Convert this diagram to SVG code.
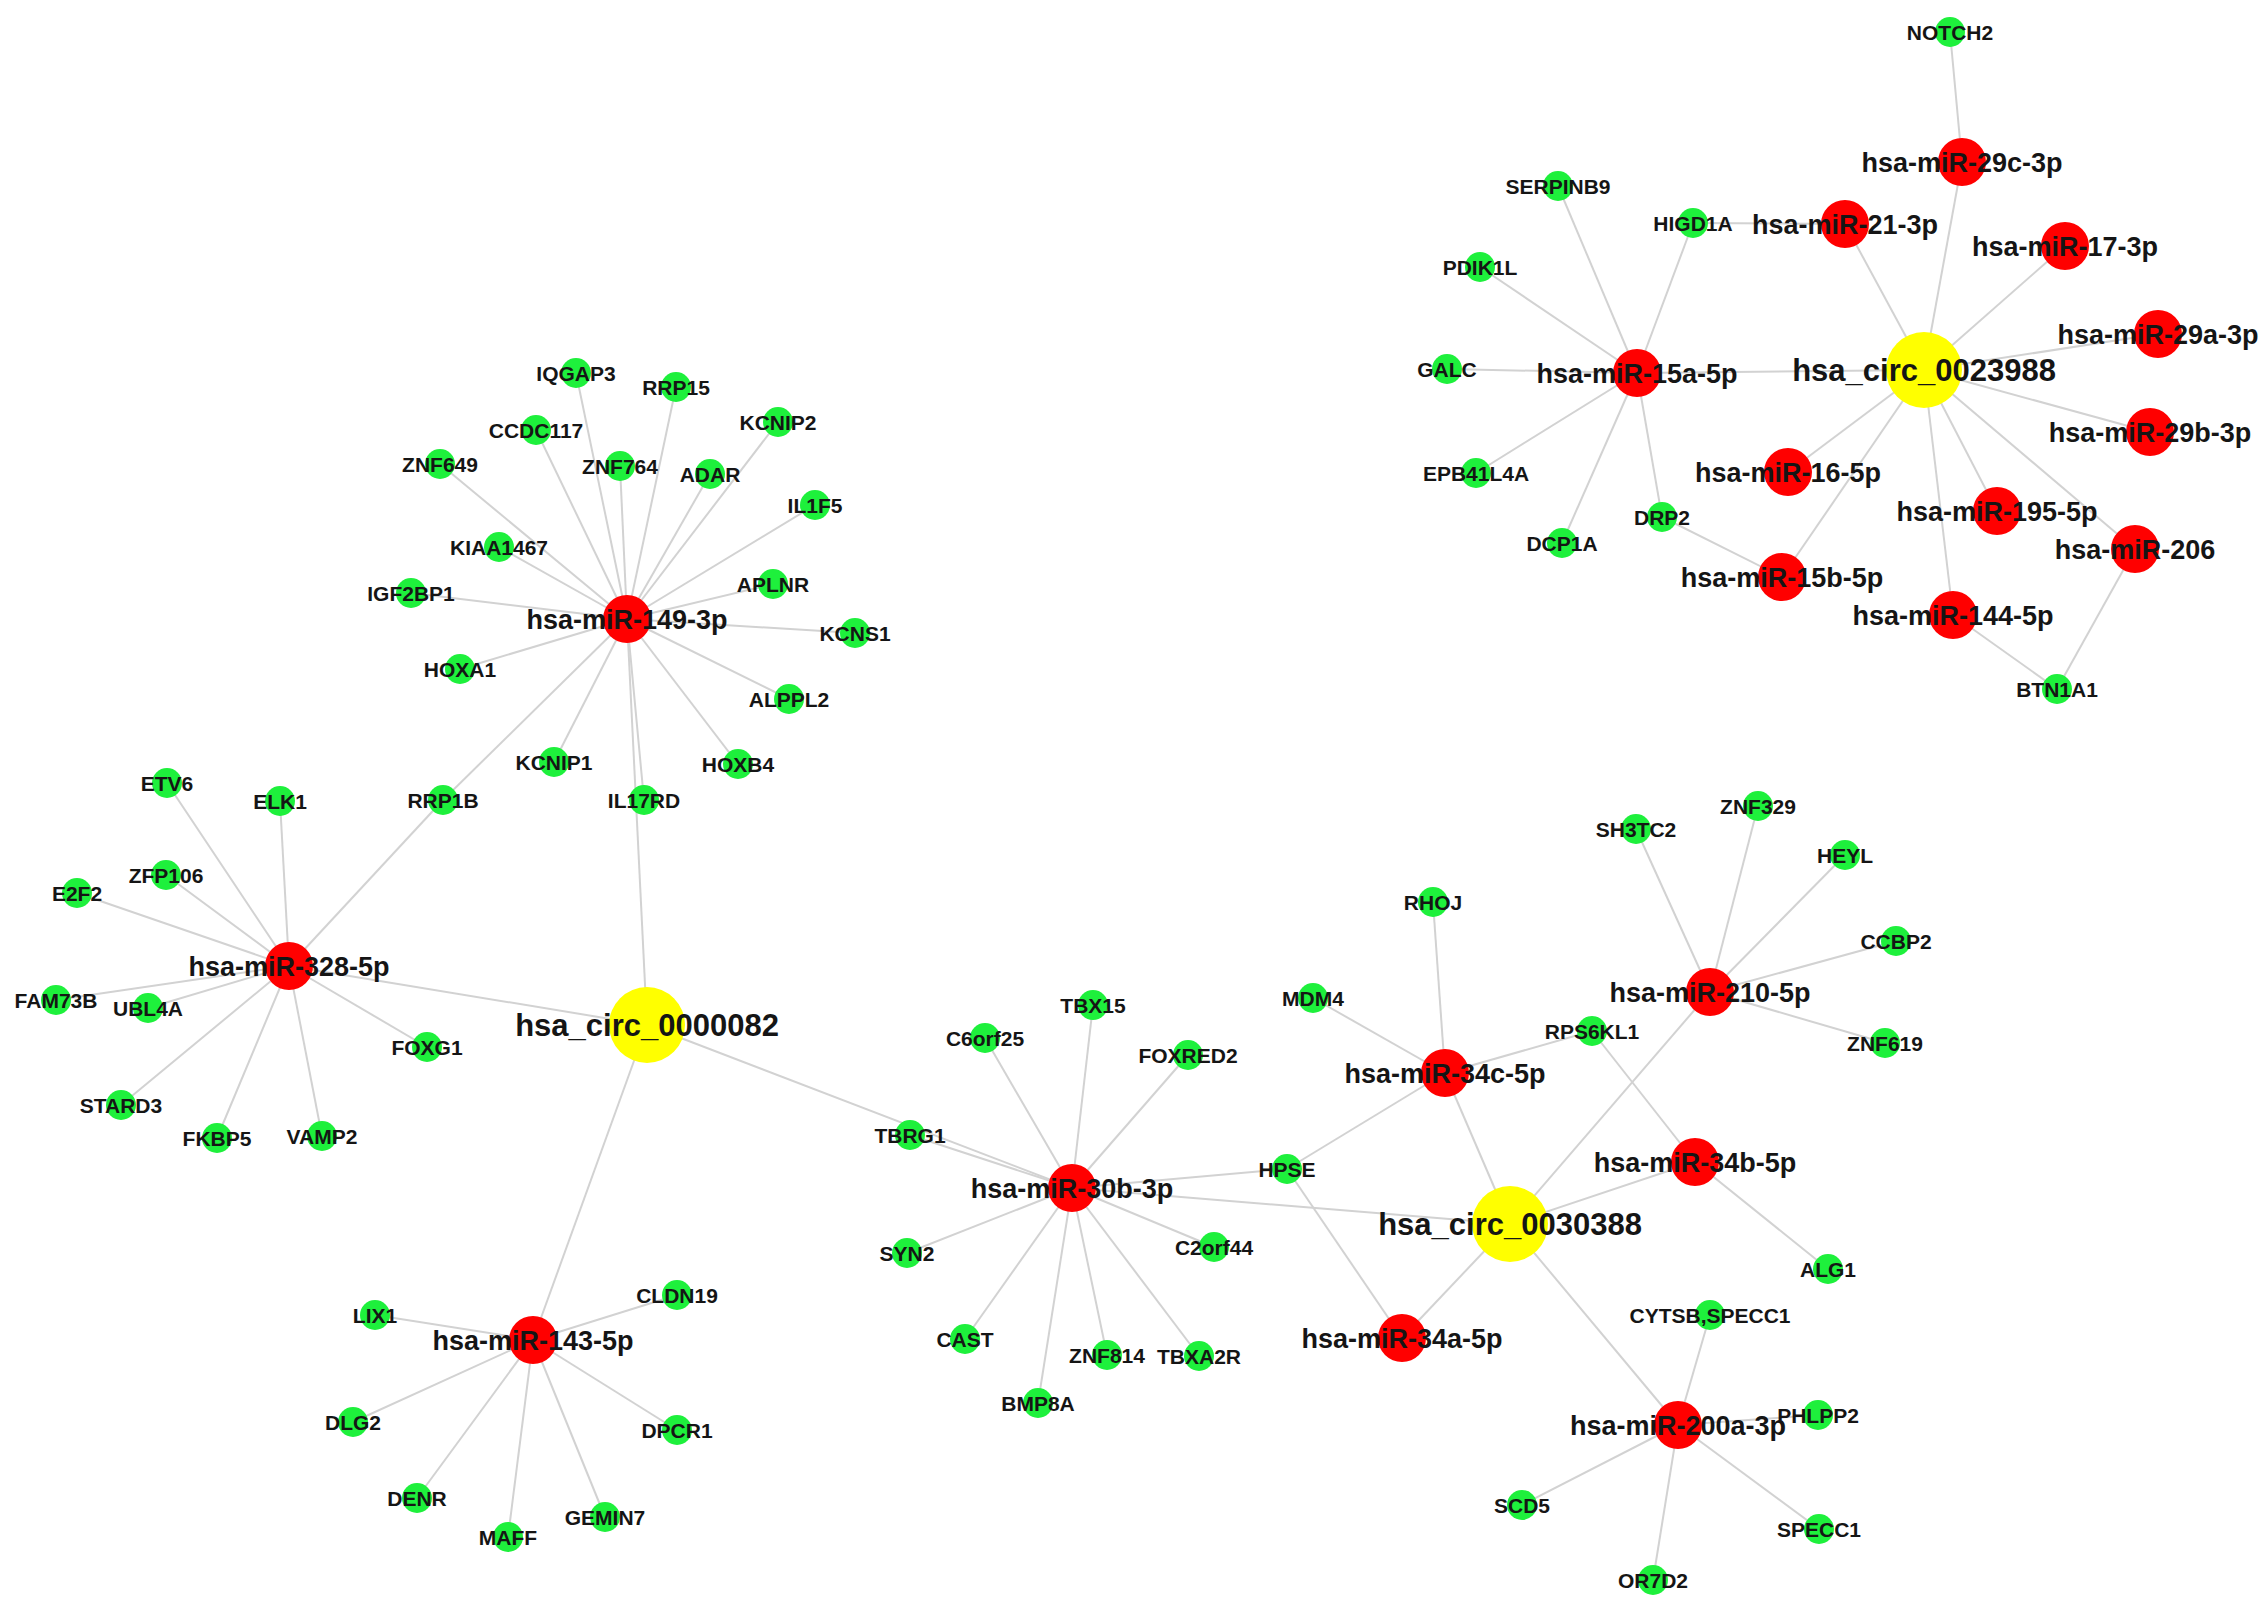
<svg xmlns="http://www.w3.org/2000/svg" width="2268" height="1609" viewBox="0 0 2268 1609">
<style>
.e line{stroke:#d2d2d2;stroke-width:2}
.g circle{fill:#1ef03c}
.r circle{fill:#ff0000}
.y circle{fill:#ffff00}
text{font-family:"Liberation Sans",Arial,sans-serif;font-weight:bold;fill:#151515;text-anchor:middle}
.g text{font-size:21px}
.r text{font-size:27px}
.y text{font-size:31px}
</style>
<rect width="2268" height="1609" fill="#ffffff"/>
<g id="edges" class="e">
<line x1="647" y1="1025" x2="627" y2="619"/>
<line x1="647" y1="1025" x2="289" y2="966"/>
<line x1="647" y1="1025" x2="533" y2="1340"/>
<line x1="647" y1="1025" x2="1072" y2="1188"/>
<line x1="627" y1="619" x2="576" y2="373"/>
<line x1="627" y1="619" x2="676" y2="387"/>
<line x1="627" y1="619" x2="536" y2="430"/>
<line x1="627" y1="619" x2="440" y2="464"/>
<line x1="627" y1="619" x2="620" y2="466"/>
<line x1="627" y1="619" x2="710" y2="474"/>
<line x1="627" y1="619" x2="778" y2="422"/>
<line x1="627" y1="619" x2="499" y2="547"/>
<line x1="627" y1="619" x2="411" y2="593"/>
<line x1="627" y1="619" x2="815" y2="505"/>
<line x1="627" y1="619" x2="773" y2="584"/>
<line x1="627" y1="619" x2="855" y2="633"/>
<line x1="627" y1="619" x2="460" y2="669"/>
<line x1="627" y1="619" x2="789" y2="699"/>
<line x1="627" y1="619" x2="738" y2="764"/>
<line x1="627" y1="619" x2="554" y2="762"/>
<line x1="627" y1="619" x2="644" y2="800"/>
<line x1="627" y1="619" x2="443" y2="800"/>
<line x1="289" y1="966" x2="167" y2="783"/>
<line x1="289" y1="966" x2="280" y2="801"/>
<line x1="289" y1="966" x2="443" y2="800"/>
<line x1="289" y1="966" x2="166" y2="875"/>
<line x1="289" y1="966" x2="77" y2="893"/>
<line x1="289" y1="966" x2="56" y2="1000"/>
<line x1="289" y1="966" x2="148" y2="1008"/>
<line x1="289" y1="966" x2="427" y2="1047"/>
<line x1="289" y1="966" x2="121" y2="1105"/>
<line x1="289" y1="966" x2="217" y2="1138"/>
<line x1="289" y1="966" x2="322" y2="1136"/>
<line x1="533" y1="1340" x2="375" y2="1315"/>
<line x1="533" y1="1340" x2="677" y2="1295"/>
<line x1="533" y1="1340" x2="353" y2="1422"/>
<line x1="533" y1="1340" x2="677" y2="1430"/>
<line x1="533" y1="1340" x2="417" y2="1498"/>
<line x1="533" y1="1340" x2="508" y2="1537"/>
<line x1="533" y1="1340" x2="605" y2="1517"/>
<line x1="1072" y1="1188" x2="910" y2="1135"/>
<line x1="1072" y1="1188" x2="985" y2="1038"/>
<line x1="1072" y1="1188" x2="1093" y2="1005"/>
<line x1="1072" y1="1188" x2="1188" y2="1055"/>
<line x1="1072" y1="1188" x2="1287" y2="1169"/>
<line x1="1072" y1="1188" x2="907" y2="1253"/>
<line x1="1072" y1="1188" x2="1214" y2="1247"/>
<line x1="1072" y1="1188" x2="965" y2="1339"/>
<line x1="1072" y1="1188" x2="1107" y2="1355"/>
<line x1="1072" y1="1188" x2="1199" y2="1356"/>
<line x1="1072" y1="1188" x2="1038" y2="1403"/>
<line x1="1072" y1="1188" x2="1510" y2="1224"/>
<line x1="1510" y1="1224" x2="1445" y2="1073"/>
<line x1="1510" y1="1224" x2="1402" y2="1338"/>
<line x1="1510" y1="1224" x2="1710" y2="992"/>
<line x1="1510" y1="1224" x2="1695" y2="1162"/>
<line x1="1510" y1="1224" x2="1678" y2="1425"/>
<line x1="1445" y1="1073" x2="1433" y2="902"/>
<line x1="1445" y1="1073" x2="1313" y2="998"/>
<line x1="1445" y1="1073" x2="1592" y2="1031"/>
<line x1="1445" y1="1073" x2="1287" y2="1169"/>
<line x1="1402" y1="1338" x2="1287" y2="1169"/>
<line x1="1710" y1="992" x2="1636" y2="829"/>
<line x1="1710" y1="992" x2="1758" y2="806"/>
<line x1="1710" y1="992" x2="1845" y2="855"/>
<line x1="1710" y1="992" x2="1896" y2="941"/>
<line x1="1710" y1="992" x2="1885" y2="1043"/>
<line x1="1695" y1="1162" x2="1592" y2="1031"/>
<line x1="1695" y1="1162" x2="1828" y2="1269"/>
<line x1="1678" y1="1425" x2="1710" y2="1315"/>
<line x1="1678" y1="1425" x2="1818" y2="1415"/>
<line x1="1678" y1="1425" x2="1522" y2="1505"/>
<line x1="1678" y1="1425" x2="1819" y2="1529"/>
<line x1="1678" y1="1425" x2="1653" y2="1580"/>
<line x1="1924" y1="370" x2="1637" y2="373"/>
<line x1="1924" y1="370" x2="1845" y2="224"/>
<line x1="1924" y1="370" x2="1962" y2="162"/>
<line x1="1924" y1="370" x2="2065" y2="246"/>
<line x1="1924" y1="370" x2="2158" y2="334"/>
<line x1="1924" y1="370" x2="2150" y2="432"/>
<line x1="1924" y1="370" x2="2135" y2="549"/>
<line x1="1924" y1="370" x2="1997" y2="511"/>
<line x1="1924" y1="370" x2="1953" y2="615"/>
<line x1="1924" y1="370" x2="1788" y2="472"/>
<line x1="1924" y1="370" x2="1782" y2="577"/>
<line x1="1637" y1="373" x2="1558" y2="186"/>
<line x1="1637" y1="373" x2="1693" y2="223"/>
<line x1="1637" y1="373" x2="1480" y2="267"/>
<line x1="1637" y1="373" x2="1447" y2="369"/>
<line x1="1637" y1="373" x2="1476" y2="473"/>
<line x1="1637" y1="373" x2="1562" y2="543"/>
<line x1="1637" y1="373" x2="1662" y2="517"/>
<line x1="1693" y1="223" x2="1845" y2="224"/>
<line x1="1662" y1="517" x2="1782" y2="577"/>
<line x1="1962" y1="162" x2="1950" y2="32"/>
<line x1="2057" y1="689" x2="1953" y2="615"/>
<line x1="2057" y1="689" x2="2135" y2="549"/>
</g>
<!-- green gene nodes -->
<g id="n-IQGAP3" class="g"><circle cx="576" cy="373" r="15"/><text x="576" y="380.5">IQGAP3</text></g>
<g id="n-RRP15" class="g"><circle cx="676" cy="387" r="15"/><text x="676" y="394.5">RRP15</text></g>
<g id="n-CCDC117" class="g"><circle cx="536" cy="430" r="15"/><text x="536" y="437.5">CCDC117</text></g>
<g id="n-ZNF649" class="g"><circle cx="440" cy="464" r="15"/><text x="440" y="471.5">ZNF649</text></g>
<g id="n-ZNF764" class="g"><circle cx="620" cy="466" r="15"/><text x="620" y="473.5">ZNF764</text></g>
<g id="n-ADAR" class="g"><circle cx="710" cy="474" r="15"/><text x="710" y="481.5">ADAR</text></g>
<g id="n-KCNIP2" class="g"><circle cx="778" cy="422" r="15"/><text x="778" y="429.5">KCNIP2</text></g>
<g id="n-KIAA1467" class="g"><circle cx="499" cy="547" r="15"/><text x="499" y="554.5">KIAA1467</text></g>
<g id="n-IGF2BP1" class="g"><circle cx="411" cy="593" r="15"/><text x="411" y="600.5">IGF2BP1</text></g>
<g id="n-IL1F5" class="g"><circle cx="815" cy="505" r="15"/><text x="815" y="512.5">IL1F5</text></g>
<g id="n-APLNR" class="g"><circle cx="773" cy="584" r="15"/><text x="773" y="591.5">APLNR</text></g>
<g id="n-KCNS1" class="g"><circle cx="855" cy="633" r="15"/><text x="855" y="640.5">KCNS1</text></g>
<g id="n-HOXA1" class="g"><circle cx="460" cy="669" r="15"/><text x="460" y="676.5">HOXA1</text></g>
<g id="n-ALPPL2" class="g"><circle cx="789" cy="699" r="15"/><text x="789" y="706.5">ALPPL2</text></g>
<g id="n-HOXB4" class="g"><circle cx="738" cy="764" r="15"/><text x="738" y="771.5">HOXB4</text></g>
<g id="n-KCNIP1" class="g"><circle cx="554" cy="762" r="15"/><text x="554" y="769.5">KCNIP1</text></g>
<g id="n-IL17RD" class="g"><circle cx="644" cy="800" r="15"/><text x="644" y="807.5">IL17RD</text></g>
<g id="n-RRP1B" class="g"><circle cx="443" cy="800" r="15"/><text x="443" y="807.5">RRP1B</text></g>
<g id="n-ETV6" class="g"><circle cx="167" cy="783" r="15"/><text x="167" y="790.5">ETV6</text></g>
<g id="n-ELK1" class="g"><circle cx="280" cy="801" r="15"/><text x="280" y="808.5">ELK1</text></g>
<g id="n-ZFP106" class="g"><circle cx="166" cy="875" r="15"/><text x="166" y="882.5">ZFP106</text></g>
<g id="n-E2F2" class="g"><circle cx="77" cy="893" r="15"/><text x="77" y="900.5">E2F2</text></g>
<g id="n-FAM73B" class="g"><circle cx="56" cy="1000" r="15"/><text x="56" y="1007.5">FAM73B</text></g>
<g id="n-UBL4A" class="g"><circle cx="148" cy="1008" r="15"/><text x="148" y="1015.5">UBL4A</text></g>
<g id="n-FOXG1" class="g"><circle cx="427" cy="1047" r="15"/><text x="427" y="1054.5">FOXG1</text></g>
<g id="n-STARD3" class="g"><circle cx="121" cy="1105" r="15"/><text x="121" y="1112.5">STARD3</text></g>
<g id="n-FKBP5" class="g"><circle cx="217" cy="1138" r="15"/><text x="217" y="1145.5">FKBP5</text></g>
<g id="n-VAMP2" class="g"><circle cx="322" cy="1136" r="15"/><text x="322" y="1143.5">VAMP2</text></g>
<g id="n-LIX1" class="g"><circle cx="375" cy="1315" r="15"/><text x="375" y="1322.5">LIX1</text></g>
<g id="n-CLDN19" class="g"><circle cx="677" cy="1295" r="15"/><text x="677" y="1302.5">CLDN19</text></g>
<g id="n-DLG2" class="g"><circle cx="353" cy="1422" r="15"/><text x="353" y="1429.5">DLG2</text></g>
<g id="n-DPCR1" class="g"><circle cx="677" cy="1430" r="15"/><text x="677" y="1437.5">DPCR1</text></g>
<g id="n-DENR" class="g"><circle cx="417" cy="1498" r="15"/><text x="417" y="1505.5">DENR</text></g>
<g id="n-MAFF" class="g"><circle cx="508" cy="1537" r="15"/><text x="508" y="1544.5">MAFF</text></g>
<g id="n-GEMIN7" class="g"><circle cx="605" cy="1517" r="15"/><text x="605" y="1524.5">GEMIN7</text></g>
<g id="n-TBX15" class="g"><circle cx="1093" cy="1005" r="15"/><text x="1093" y="1012.5">TBX15</text></g>
<g id="n-C6orf25" class="g"><circle cx="985" cy="1038" r="15"/><text x="985" y="1045.5">C6orf25</text></g>
<g id="n-FOXRED2" class="g"><circle cx="1188" cy="1055" r="15"/><text x="1188" y="1062.5">FOXRED2</text></g>
<g id="n-TBRG1" class="g"><circle cx="910" cy="1135" r="15"/><text x="910" y="1142.5">TBRG1</text></g>
<g id="n-HPSE" class="g"><circle cx="1287" cy="1169" r="15"/><text x="1287" y="1176.5">HPSE</text></g>
<g id="n-SYN2" class="g"><circle cx="907" cy="1253" r="15"/><text x="907" y="1260.5">SYN2</text></g>
<g id="n-C2orf44" class="g"><circle cx="1214" cy="1247" r="15"/><text x="1214" y="1254.5">C2orf44</text></g>
<g id="n-CAST" class="g"><circle cx="965" cy="1339" r="15"/><text x="965" y="1346.5">CAST</text></g>
<g id="n-ZNF814" class="g"><circle cx="1107" cy="1355" r="15"/><text x="1107" y="1362.5">ZNF814</text></g>
<g id="n-TBXA2R" class="g"><circle cx="1199" cy="1356" r="15"/><text x="1199" y="1363.5">TBXA2R</text></g>
<g id="n-BMP8A" class="g"><circle cx="1038" cy="1403" r="15"/><text x="1038" y="1410.5">BMP8A</text></g>
<g id="n-MDM4" class="g"><circle cx="1313" cy="998" r="15"/><text x="1313" y="1005.5">MDM4</text></g>
<g id="n-RHOJ" class="g"><circle cx="1433" cy="902" r="15"/><text x="1433" y="909.5">RHOJ</text></g>
<g id="n-RPS6KL1" class="g"><circle cx="1592" cy="1031" r="15"/><text x="1592" y="1038.5">RPS6KL1</text></g>
<g id="n-SH3TC2" class="g"><circle cx="1636" cy="829" r="15"/><text x="1636" y="836.5">SH3TC2</text></g>
<g id="n-ZNF329" class="g"><circle cx="1758" cy="806" r="15"/><text x="1758" y="813.5">ZNF329</text></g>
<g id="n-HEYL" class="g"><circle cx="1845" cy="855" r="15"/><text x="1845" y="862.5">HEYL</text></g>
<g id="n-CCBP2" class="g"><circle cx="1896" cy="941" r="15"/><text x="1896" y="948.5">CCBP2</text></g>
<g id="n-ZNF619" class="g"><circle cx="1885" cy="1043" r="15"/><text x="1885" y="1050.5">ZNF619</text></g>
<g id="n-ALG1" class="g"><circle cx="1828" cy="1269" r="15"/><text x="1828" y="1276.5">ALG1</text></g>
<g id="n-CYTSB-SPECC1" class="g"><circle cx="1710" cy="1315" r="15"/><text x="1710" y="1322.5">CYTSB,SPECC1</text></g>
<g id="n-PHLPP2" class="g"><circle cx="1818" cy="1415" r="15"/><text x="1818" y="1422.5">PHLPP2</text></g>
<g id="n-SCD5" class="g"><circle cx="1522" cy="1505" r="15"/><text x="1522" y="1512.5">SCD5</text></g>
<g id="n-SPECC1" class="g"><circle cx="1819" cy="1529" r="15"/><text x="1819" y="1536.5">SPECC1</text></g>
<g id="n-OR7D2" class="g"><circle cx="1653" cy="1580" r="15"/><text x="1653" y="1587.5">OR7D2</text></g>
<g id="n-SERPINB9" class="g"><circle cx="1558" cy="186" r="15"/><text x="1558" y="193.5">SERPINB9</text></g>
<g id="n-HIGD1A" class="g"><circle cx="1693" cy="223" r="15"/><text x="1693" y="230.5">HIGD1A</text></g>
<g id="n-PDIK1L" class="g"><circle cx="1480" cy="267" r="15"/><text x="1480" y="274.5">PDIK1L</text></g>
<g id="n-GALC" class="g"><circle cx="1447" cy="369" r="15"/><text x="1447" y="376.5">GALC</text></g>
<g id="n-EPB41L4A" class="g"><circle cx="1476" cy="473" r="15"/><text x="1476" y="480.5">EPB41L4A</text></g>
<g id="n-DRP2" class="g"><circle cx="1662" cy="517" r="15"/><text x="1662" y="524.5">DRP2</text></g>
<g id="n-DCP1A" class="g"><circle cx="1562" cy="543" r="15"/><text x="1562" y="550.5">DCP1A</text></g>
<g id="n-NOTCH2" class="g"><circle cx="1950" cy="32" r="15"/><text x="1950" y="39.5">NOTCH2</text></g>
<g id="n-BTN1A1" class="g"><circle cx="2057" cy="689" r="15"/><text x="2057" y="696.5">BTN1A1</text></g>
<!-- red miRNA nodes -->
<g id="n-miR-149-3p" class="r"><circle cx="627" cy="619" r="24"/><text x="627" y="628.7">hsa-miR-149-3p</text></g>
<g id="n-miR-328-5p" class="r"><circle cx="289" cy="966" r="24"/><text x="289" y="975.7">hsa-miR-328-5p</text></g>
<g id="n-miR-143-5p" class="r"><circle cx="533" cy="1340" r="24"/><text x="533" y="1349.7">hsa-miR-143-5p</text></g>
<g id="n-miR-30b-3p" class="r"><circle cx="1072" cy="1188" r="24"/><text x="1072" y="1197.7">hsa-miR-30b-3p</text></g>
<g id="n-miR-34c-5p" class="r"><circle cx="1445" cy="1073" r="24"/><text x="1445" y="1082.7">hsa-miR-34c-5p</text></g>
<g id="n-miR-34a-5p" class="r"><circle cx="1402" cy="1338" r="24"/><text x="1402" y="1347.7">hsa-miR-34a-5p</text></g>
<g id="n-miR-210-5p" class="r"><circle cx="1710" cy="992" r="24"/><text x="1710" y="1001.7">hsa-miR-210-5p</text></g>
<g id="n-miR-34b-5p" class="r"><circle cx="1695" cy="1162" r="24"/><text x="1695" y="1171.7">hsa-miR-34b-5p</text></g>
<g id="n-miR-200a-3p" class="r"><circle cx="1678" cy="1425" r="24"/><text x="1678" y="1434.7">hsa-miR-200a-3p</text></g>
<g id="n-miR-15a-5p" class="r"><circle cx="1637" cy="373" r="24"/><text x="1637" y="382.7">hsa-miR-15a-5p</text></g>
<g id="n-miR-21-3p" class="r"><circle cx="1845" cy="224" r="24"/><text x="1845" y="233.7">hsa-miR-21-3p</text></g>
<g id="n-miR-29c-3p" class="r"><circle cx="1962" cy="162" r="24"/><text x="1962" y="171.7">hsa-miR-29c-3p</text></g>
<g id="n-miR-17-3p" class="r"><circle cx="2065" cy="246" r="24"/><text x="2065" y="255.7">hsa-miR-17-3p</text></g>
<g id="n-miR-29a-3p" class="r"><circle cx="2158" cy="334" r="24"/><text x="2158" y="343.7">hsa-miR-29a-3p</text></g>
<g id="n-miR-29b-3p" class="r"><circle cx="2150" cy="432" r="24"/><text x="2150" y="441.7">hsa-miR-29b-3p</text></g>
<g id="n-miR-195-5p" class="r"><circle cx="1997" cy="511" r="24"/><text x="1997" y="520.7">hsa-miR-195-5p</text></g>
<g id="n-miR-206" class="r"><circle cx="2135" cy="549" r="24"/><text x="2135" y="558.7">hsa-miR-206</text></g>
<g id="n-miR-144-5p" class="r"><circle cx="1953" cy="615" r="24"/><text x="1953" y="624.7">hsa-miR-144-5p</text></g>
<g id="n-miR-16-5p" class="r"><circle cx="1788" cy="472" r="24"/><text x="1788" y="481.7">hsa-miR-16-5p</text></g>
<g id="n-miR-15b-5p" class="r"><circle cx="1782" cy="577" r="24"/><text x="1782" y="586.7">hsa-miR-15b-5p</text></g>
<!-- yellow circRNA nodes -->
<g id="n-circ-0000082" class="y"><circle cx="647" cy="1025" r="38"/><text x="647" y="1036">hsa_circ_0000082</text></g>
<g id="n-circ-0030388" class="y"><circle cx="1510" cy="1224" r="38"/><text x="1510" y="1235">hsa_circ_0030388</text></g>
<g id="n-circ-0023988" class="y"><circle cx="1924" cy="370" r="38"/><text x="1924" y="381">hsa_circ_0023988</text></g>
</svg>
